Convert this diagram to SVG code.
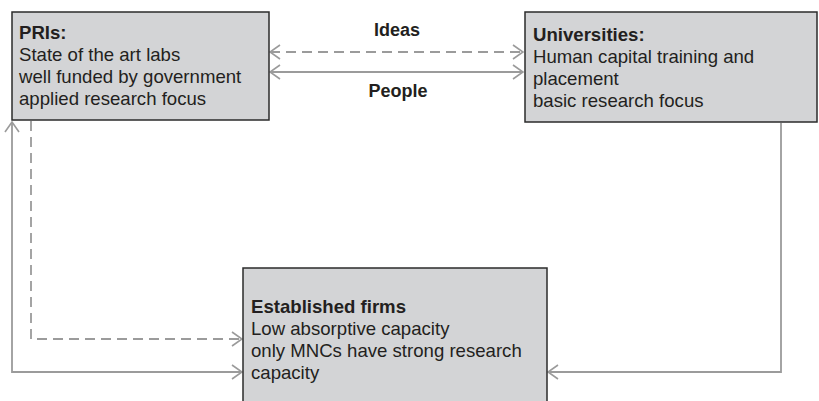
<svg xmlns="http://www.w3.org/2000/svg" width="819" height="401" viewBox="0 0 819 401">
<defs>
<marker id="arr" viewBox="0 0 12 16" refX="11" refY="8" markerWidth="12" markerHeight="16" markerUnits="userSpaceOnUse" orient="auto-start-reverse">
<path d="M1,1 L11,8 L1,15" fill="none" stroke="#9b9b9b" stroke-width="1.6"/>
</marker>
<style>
.box{fill:#d3d4d6;stroke:#2b2b2b;stroke-width:1.5}
.t{font-family:"Liberation Sans",Arial,sans-serif;font-size:18.6px;fill:#231f20}
.b{font-weight:bold}
.c{fill:none;stroke:#9b9b9b;stroke-width:1.8}
.d{stroke-dasharray:10,6}
.lbl{font-family:"Liberation Sans",Arial,sans-serif;font-size:18px;font-weight:bold;fill:#231f20;text-anchor:middle}
</style>
</defs>
<g id="connectors">
<line class="c d" x1="270" y1="52" x2="523" y2="52" marker-start="url(#arr)" marker-end="url(#arr)"/>
<line class="c" x1="270" y1="72" x2="523" y2="72" marker-start="url(#arr)" marker-end="url(#arr)"/>
<polyline class="c d" points="31,121 31,339 242,339" marker-end="url(#arr)"/>
<polyline class="c" points="242,372 12,372 12,122" marker-start="url(#arr)" marker-end="url(#arr)"/>
<polyline class="c" points="781,123 781,372 548,372" marker-end="url(#arr)"/>
<text class="lbl" x="397" y="36">Ideas</text>
<text class="lbl" x="398" y="97">People</text>
</g>
<g id="pris">
<rect class="box" x="12" y="12" width="257" height="108"/>
<text class="t b" x="19" y="39">PRIs:</text>
<text class="t" x="19" y="61">State of the art labs</text>
<text class="t" x="19" y="83">well funded by government</text>
<text class="t" x="19" y="105">applied research focus</text>
</g>
<g id="universities">
<rect class="box" x="525" y="12" width="292" height="110"/>
<text class="t b" x="533" y="41">Universities:</text>
<text class="t" x="533" y="63">Human capital training and</text>
<text class="t" x="533" y="85">placement</text>
<text class="t" x="533" y="107">basic research focus</text>
</g>
<g id="firms">
<rect class="box" x="243" y="268" width="304" height="140"/>
<text class="t b" x="251" y="313">Established firms</text>
<text class="t" x="251" y="335">Low absorptive capacity</text>
<text class="t" x="251" y="357">only MNCs have strong research</text>
<text class="t" x="251" y="379">capacity</text>
</g>
</svg>
